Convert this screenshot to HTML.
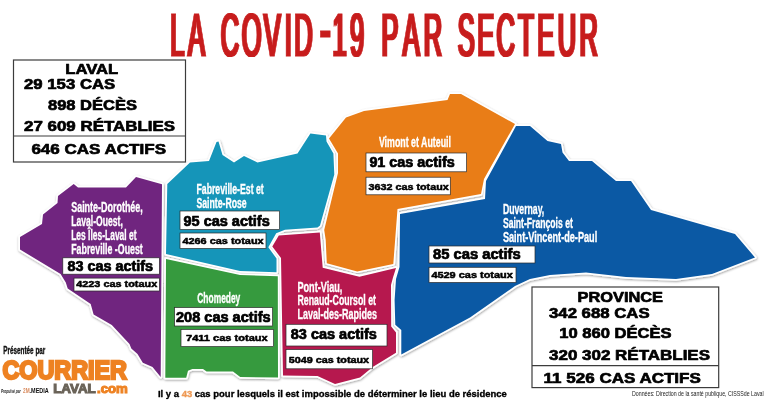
<!DOCTYPE html>
<html lang="fr">
<head>
<meta charset="utf-8">
<title>La COVID-19 par secteur</title>
<style>
html,body{margin:0;padding:0;background:#fff;}
body{width:768px;height:401px;overflow:hidden;}
svg{display:block;}
.hv{font-family:"Liberation Sans","DejaVu Sans",sans-serif;font-weight:700;fill:#000;stroke:#000;stroke-width:.7px;stroke-linejoin:round;}
.cd{font-family:"Liberation Sans","DejaVu Sans",sans-serif;font-weight:700;fill:#fff;stroke:#fff;stroke-width:.35px;}
.bx{fill:#fff;stroke:#2a2a2a;stroke-width:.7;}
</style>
</head>
<body>
<svg width="768" height="401" viewBox="0 0 768 401">
<defs>
<filter id="sh" x="-5%" y="-5%" width="110%" height="110%">
<feDropShadow dx="0.5" dy="1" stdDeviation="1.2" flood-color="#000" flood-opacity=".38"/>
</filter>
<filter id="fat" x="-2%" y="-10%" width="104%" height="120%"><feMorphology operator="dilate" radius="1 0"/></filter>
</defs>
<rect width="768" height="401" fill="#fff"/>

<!-- title -->
<g id="titleg" filter="url(#fat)"><text id="title" transform="scale(0.42 1)" x="405.5 447.9 467.9 525.7 575.6 628.2 678.1 700.5 762.2 791.4 833.5 853.5 908.4 959.0 1009.2 1029.2 1090.1 1136.1 1182.2 1233.8 1279.2 1328.0 1380.0" y="55.7" font-family="'Liberation Sans',sans-serif" font-weight="400" font-size="60.5" fill="#c71f1f" stroke="#c71f1f" stroke-width="1.2" stroke-linejoin="miter" stroke-miterlimit="3">LA COVID<tspan font-size="75.6" dy="-1.3">-</tspan><tspan dy="1.3">19</tspan> PAR SECTEUR</text></g>

<!-- map -->
<defs>
<g id="shapes">
<polygon id="p-purple" fill="#70257f" points="73.7,184 78,187.5 126,187.5 136,177 162,184.3 160.7,377 152.5,367 142.8,362.8 137.5,354 131.3,348.6 129.5,344 111.8,325 93.6,314.5 90.7,304 67.7,288.6 65.8,282.6 60.6,274 20,249.5 20,237 42,224 43,214.5 57.5,203 58,196"/>
<polygon id="p-teal" fill="#1595b9" points="167.3,184 190,162.5 209,161 216.5,142 218.5,141.5 222.5,155 234,162.5 244,156 257.5,162.5 297.5,153.5 310.4,133.4 326,135.5 326.5,141.5 333.4,153.4 334.3,174.4 320,225.5 317.5,227.5 285,229.8 276.2,233.3 268.3,247.3 276.5,258.5 276.5,272.3 240,271 166,254"/>
<polygon id="p-green" fill="#369a3e" points="166,259 240,275 277.8,276.3 278,377.5 240.2,377 233,371.6 206.6,371.6 203,369 192.4,369 188,370.7 186.2,377.8 165.3,377.8"/>
<polygon id="p-crimson" fill="#b6184e" points="278.8,235.6 319.8,232.4 322.7,267.7 359.4,276.7 396,268 393,277.4 391,285 391.2,326.5 396,332.4 396,352.7 372.7,367 360,377.5 335,384 317.5,376 283,375.5 281,258 272.3,246.4"/>
<polygon id="p-orange" fill="#e97d17" points="329,138.5 346,117.5 364,111 447.5,100 450,94 461,94 515,124 484,179 481,194 397.5,209 393.3,264 357.2,271.4 326.8,263.2 325.7,240 324.2,230 338,173 338,153.4"/>
<polygon id="p-blue" fill="#0b59a4" points="516,126 530,126 547.5,141 561,144 562.5,152.5 569,161 592,161 616,181 631,181 651,210 735,234 755,257.5 712,274 676,279 626,277 586,272.5 550,275 530,279 515,286 495,300 470,317.5 401.3,354.4 401.3,330 395.3,324.8 394.6,300 396,279 399.5,267 400,214 485,199 486,181"/>
</g>
</defs>
<use href="#shapes" stroke="#fff" stroke-width="3.4" stroke-linejoin="round" filter="url(#sh)"/>
<use href="#shapes"/>

<!-- white data boxes -->
<g class="bx">
<rect x="62.8" y="257.8" width="96.6" height="16.4"/>
<rect x="74" y="278.1" width="85.4" height="12.9"/>
<rect x="180" y="211" width="99.6" height="18.6"/>
<rect x="180" y="233" width="86" height="15.5"/>
<rect x="174.6" y="307.5" width="98" height="18.5"/>
<rect x="181" y="329.4" width="92.6" height="17.2"/>
<rect x="286" y="324.3" width="101" height="21.7"/>
<rect x="286" y="349.5" width="86.6" height="19.3"/>
<rect x="366" y="153" width="100.6" height="18.8"/>
<rect x="366" y="177.2" width="84.3" height="17.6"/>
<rect x="429" y="246" width="106" height="17"/>
<rect x="429" y="267.3" width="87" height="15.2"/>
</g>

<!-- sector labels -->
<g class="cd" font-size="14.2">
<text x="71.2" y="212" textLength="71.6" lengthAdjust="spacingAndGlyphs">Sainte-Dorothée,</text>
<text x="71.2" y="226" textLength="51.6" lengthAdjust="spacingAndGlyphs">Laval-Ouest,</text>
<text x="71.2" y="240" textLength="65.3" lengthAdjust="spacingAndGlyphs">Les Îles-Laval et</text>
<text x="71.2" y="254.1" textLength="71.6" lengthAdjust="spacingAndGlyphs">Fabreville -Ouest</text>

<text x="196.5" y="194" textLength="67.2" lengthAdjust="spacingAndGlyphs">Fabreville-Est et</text>
<text x="196.5" y="207.5" textLength="50.2" lengthAdjust="spacingAndGlyphs">Sainte-Rose</text>

<text x="378.9" y="147" textLength="72.1" lengthAdjust="spacingAndGlyphs">Vimont et Auteuil</text>

<text x="502.9" y="214.4" textLength="41.4" lengthAdjust="spacingAndGlyphs">Duvernay,</text>
<text x="502.9" y="228.2" textLength="69.9" lengthAdjust="spacingAndGlyphs">Saint-François et</text>
<text x="502.9" y="241.9" textLength="94.3" lengthAdjust="spacingAndGlyphs">Saint-Vincent-de-Paul</text>

<text x="197.3" y="302.9" textLength="43" lengthAdjust="spacingAndGlyphs">Chomedey</text>

<text x="297.4" y="291.5" textLength="45" lengthAdjust="spacingAndGlyphs">Pont-Viau,</text>
<text x="297.4" y="305.3" textLength="78.6" lengthAdjust="spacingAndGlyphs">Renaud-Coursol et</text>
<text x="297.4" y="318.8" textLength="79.5" lengthAdjust="spacingAndGlyphs">Laval-des-Rapides</text>
</g>

<!-- active cases -->
<g class="hv" font-size="13.8">
<text x="67.5" y="271" textLength="85.5" lengthAdjust="spacingAndGlyphs">83 cas actifs</text>
<text x="183.5" y="225.8" textLength="86.2" lengthAdjust="spacingAndGlyphs">95 cas actifs</text>
<text x="369.4" y="166.5" textLength="85.3" lengthAdjust="spacingAndGlyphs">91 cas actifs</text>
<text x="433" y="259.4" textLength="87.7" lengthAdjust="spacingAndGlyphs">85 cas actifs</text>
<text x="176" y="321.9" textLength="94.6" lengthAdjust="spacingAndGlyphs">208 cas actifs</text>
<text x="290.8" y="338.9" textLength="86.1" lengthAdjust="spacingAndGlyphs">83 cas actifs</text>
</g>
<!-- total cases -->
<g class="hv" font-size="9.7" style="stroke-width:.5px">
<text x="76.2" y="286.8" textLength="81" lengthAdjust="spacingAndGlyphs">4223 cas totaux</text>
<text x="182.4" y="244.4" textLength="81.3" lengthAdjust="spacingAndGlyphs">4266 cas totaux</text>
<text x="368.6" y="189.8" textLength="80.1" lengthAdjust="spacingAndGlyphs">3632 cas totaux</text>
<text x="431.4" y="278.4" textLength="81.4" lengthAdjust="spacingAndGlyphs">4529 cas totaux</text>
<text x="186" y="341.4" textLength="81.7" lengthAdjust="spacingAndGlyphs">7411 cas totaux</text>
<text x="288.8" y="363.3" textLength="80.3" lengthAdjust="spacingAndGlyphs">5049 cas totaux</text>
</g>

<!-- stat boxes -->
<g fill="#fff" stroke="#3c3c3c" stroke-width="1.2">
<rect x="13.5" y="60" width="172" height="102"/>
<line x1="13.5" y1="136" x2="185.5" y2="136"/>
<rect x="532" y="287" width="186.7" height="100.6"/>
<line x1="532" y1="365.6" x2="718.7" y2="365.6"/>
</g>

<g class="hv" font-size="15.1" transform="translate(0 -0.3)">
<text x="65.3" y="74" textLength="53" lengthAdjust="spacingAndGlyphs">LAVAL</text>
<text x="24" y="89" textLength="91.3" lengthAdjust="spacingAndGlyphs">29 153 CAS</text>
<text x="48" y="110" textLength="89" lengthAdjust="spacingAndGlyphs">898 DÉCÈS</text>
<text x="24" y="131.4" textLength="151" lengthAdjust="spacingAndGlyphs">27 609 RÉTABLIES</text>
<text x="31.4" y="154.8" textLength="134.6" lengthAdjust="spacingAndGlyphs">646 CAS ACTIFS</text>

<text x="577.5" y="302.7" textLength="85.5" lengthAdjust="spacingAndGlyphs">PROVINCE</text>
<text x="549" y="318.4" textLength="100.6" lengthAdjust="spacingAndGlyphs">342 688 CAS</text>
<text x="559.3" y="338.8" textLength="112.3" lengthAdjust="spacingAndGlyphs">10 860 DÉCÈS</text>
<text x="549" y="360" textLength="161" lengthAdjust="spacingAndGlyphs">320 302 RÉTABLIES</text>
<text x="543.6" y="382.9" textLength="157.2" lengthAdjust="spacingAndGlyphs">11 526 CAS ACTIFS</text>
</g>

<!-- footer note -->
<text class="hv" style="stroke-width:.35px" font-size="9.6" x="157.9" y="396.8" textLength="349" lengthAdjust="spacingAndGlyphs">Il y a <tspan fill="#ee9a55" stroke="#ee9a55">43</tspan> cas pour lesquels il est impossible de déterminer le lieu de résidence</text>
<text font-family="'Liberation Sans',sans-serif" font-size="7.2" fill="#222" x="632" y="395.5" textLength="131.6" lengthAdjust="spacingAndGlyphs">Données: Direction de la santé publique, CISSSde Laval</text>

<!-- logo -->
<g id="logo" font-family="'Liberation Sans',sans-serif" font-weight="700">
<text x="3.3" y="353.7" font-size="10.2" fill="#111" stroke="#111" stroke-width=".35" textLength="42" lengthAdjust="spacingAndGlyphs">Présentée par</text>
<text x="2.4" y="379.3" font-size="25" fill="#ee8222" stroke="#ee8222" stroke-width="2.3" stroke-linejoin="miter" stroke-miterlimit="2.5" textLength="124.6" lengthAdjust="spacingAndGlyphs">COURRIER</text>
<text x="53.2" y="393.1" font-size="13" fill="#6a6358" stroke="#6a6358" stroke-width="1.1" stroke-linejoin="miter" stroke-miterlimit="2.5" textLength="42.6" lengthAdjust="spacingAndGlyphs">LAVAL</text>
<text x="97" y="393.1" font-size="13" fill="#ee8222" stroke="#ee8222" stroke-width="1.1" stroke-linejoin="miter" stroke-miterlimit="2.5" textLength="30.8" lengthAdjust="spacingAndGlyphs">.com</text>
<text x="0.9" y="392.6" font-size="5" font-style="italic" fill="#222" textLength="20" lengthAdjust="spacingAndGlyphs">Propulsé par</text>
<text x="23" y="392.9" font-size="7" fill="#d98a5c" textLength="6.6" lengthAdjust="spacingAndGlyphs">2M</text>
<text x="29.6" y="392.9" font-size="7" fill="#111" textLength="19.2" lengthAdjust="spacingAndGlyphs">.MEDIA</text>
</g>

</svg>
</body>
</html>
